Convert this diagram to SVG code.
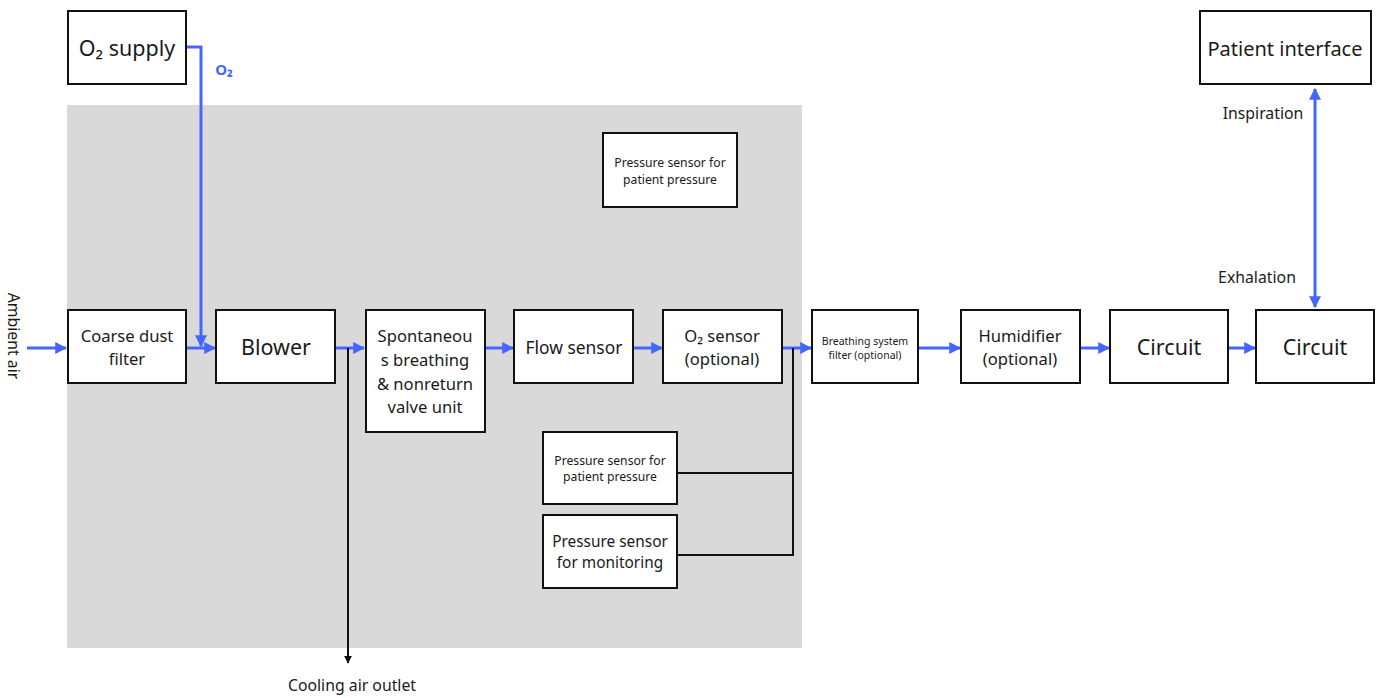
<svg xmlns="http://www.w3.org/2000/svg" width="1379" height="698" viewBox="0 0 1379 698">
<style>
text{font-family:"Noto Sans","Open Sans","DejaVu Sans",sans-serif;fill:#1a1a1a;text-anchor:middle}
.box{fill:#fff;stroke:#111;stroke-width:2}
.blue{fill:none;stroke:#4466ff;stroke-width:3}
.blk{fill:none;stroke:#111;stroke-width:2}
.l20{font-size:21.5px}.l16{font-size:16.6px}.l15{font-size:15.4px}.l14{font-size:15.8px}.l11{font-size:12.2px}.l10{font-size:10.5px}
</style>
<defs>
<marker id="ab" viewBox="0 0 10 10" refX="9" refY="5" markerWidth="4" markerHeight="4" orient="auto-start-reverse" markerUnits="strokeWidth"><path d="M0,0L10,5L0,10z" fill="#4466ff"/></marker>
<marker id="ak" viewBox="0 0 10 10" refX="9" refY="5" markerWidth="4" markerHeight="4.5" orient="auto" markerUnits="strokeWidth"><path d="M0,0L10,5L0,10z" fill="#111"/></marker>
</defs>
<rect id="housing" x="67" y="105" width="735" height="543" fill="#d9d9d9"/>
<g id="connectors">
<path class="blue" d="M187,47H201V346" marker-end="url(#ab)"/>
<path class="blue" d="M27,348H66" marker-end="url(#ab)"/>
<path class="blue" d="M187,348H215" marker-end="url(#ab)"/>
<path class="blue" d="M336,348H364" marker-end="url(#ab)"/>
<path class="blk" d="M348,348V663" marker-end="url(#ak)"/>
<path class="blue" d="M486,348H513" marker-end="url(#ab)"/>
<path class="blue" d="M634,348H662" marker-end="url(#ab)"/>
<path class="blue" d="M783,348H811" marker-end="url(#ab)"/>
<path class="blk" d="M793,348V555H677M793,473H677"/>
<path class="blue" d="M919,348H960" marker-end="url(#ab)"/>
<path class="blue" d="M1081,348H1109" marker-end="url(#ab)"/>
<path class="blue" d="M1229,348H1255" marker-end="url(#ab)"/>
<path class="blue" d="M1315,89V307" marker-start="url(#ab)" marker-end="url(#ab)"/>
</g>
<g id="labels">
<text x="224" y="75" style="font-size:15px;font-weight:bold;fill:#4466ff">O₂</text>
<text class="l14" transform="translate(8,336) rotate(90)">Ambient air</text>
<text class="l14" x="352" y="691">Cooling air outlet</text>
<text class="l14" x="1263" y="119">Inspiration</text>
<text class="l14" x="1257" y="283">Exhalation</text>
</g>
<g id="o2supply"><rect class="box" x="68" y="11" width="118" height="73"/><text class="l20" x="127" y="56">O₂ supply</text></g>
<g id="filter"><rect class="box" x="68" y="310" width="118" height="73"/><text class="l16" x="127" y="342">Coarse dust</text><text class="l16" x="127" y="365">filter</text></g>
<g id="blower"><rect class="box" x="216" y="310" width="119" height="73"/><text class="l20" x="276" y="355">Blower</text></g>
<g id="valve"><rect class="box" x="366" y="310" width="119" height="122"/><text class="l16" x="425" y="342">Spontaneou</text><text class="l16" x="425" y="366">s breathing</text><text class="l16" x="425" y="390">&amp; nonreturn</text><text class="l16" x="425" y="413">valve unit</text></g>
<g id="flow"><rect class="box" x="514" y="310" width="119" height="73"/><text x="574" y="354" style="font-size:17.4px">Flow sensor</text></g>
<g id="o2sensor"><rect class="box" x="663" y="310" width="119" height="73"/><text class="l16" x="722" y="342">O₂ sensor</text><text class="l16" x="722" y="365">(optional)</text></g>
<g id="ps_top"><rect class="box" x="603" y="133" width="134" height="74"/><text class="l11" x="670" y="167">Pressure sensor for</text><text class="l11" x="670" y="184">patient pressure</text></g>
<g id="ps_patient"><rect class="box" x="543" y="432" width="134" height="72"/><text class="l11" x="610" y="465">Pressure sensor for</text><text class="l11" x="610" y="481">patient pressure</text></g>
<g id="ps_monitor"><rect class="box" x="543" y="515" width="134" height="73"/><text class="l15" x="610" y="547">Pressure sensor</text><text class="l15" x="610" y="568">for monitoring</text></g>
<g id="bsfilter"><rect class="box" x="812" y="310" width="106" height="73"/><text class="l10" x="865" y="345">Breathing system</text><text class="l10" x="865" y="359">filter (optional)</text></g>
<g id="humidifier"><rect class="box" x="961" y="310" width="119" height="73"/><text class="l16" x="1020" y="342">Humidifier</text><text class="l16" x="1020" y="365">(optional)</text></g>
<g id="circuit1"><rect class="box" x="1110" y="310" width="118" height="73"/><text class="l20" x="1169" y="355">Circuit</text></g>
<g id="circuit2"><rect class="box" x="1256" y="310" width="118" height="73"/><text class="l20" x="1315" y="355">Circuit</text></g>
<g id="patient"><rect class="box" x="1200" y="11" width="171" height="73"/><text x="1285" y="56" style="font-size:20px">Patient interface</text></g>
</svg>
